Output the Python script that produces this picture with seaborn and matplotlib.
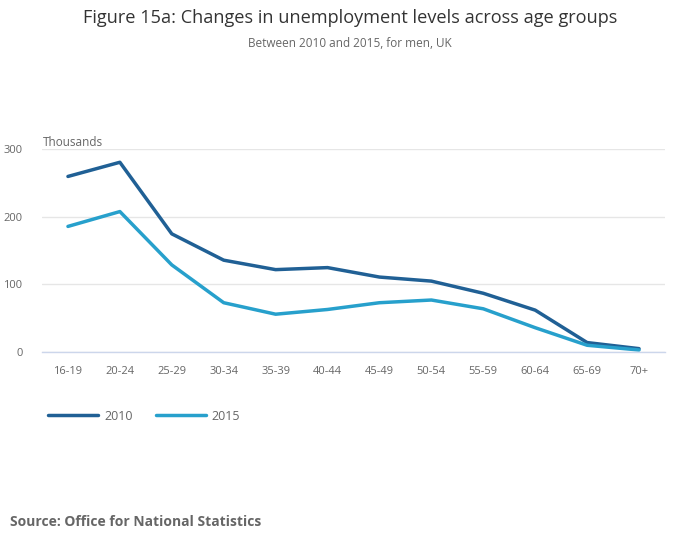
import pandas as pd
import matplotlib.pyplot as plt
import seaborn as sns
from matplotlib.lines import Line2D

age_groups = ['16-19', '20-24', '25-29', '30-34', '35-39', '40-44',
              '45-49', '50-54', '55-59', '60-64', '65-69', '70+']
men_2010 = [260, 281, 175, 136, 122, 125, 111, 105, 87, 62, 14, 5]
men_2015 = [186, 208, 129, 73, 56, 63, 73, 77, 64, 36, 10, 3]
years = ['2010', '2015']
y_ticks = [0, 100, 200, 300]

sns.set_style('white')
plt.rcParams['font.family'] = ['Open Sans', 'DejaVu Sans']

df = pd.DataFrame({
    'age': age_groups * 2,
    'value': men_2010 + men_2015,
    'year': [years[0]] * len(age_groups) + [years[1]] * len(age_groups),
})
df['pos'] = list(range(len(age_groups))) * 2

palette = {'2010': '#206095', '2015': '#27a0cc'}

fig = plt.figure(figsize=(7, 5.49), dpi=100)
ax = fig.add_axes([0.06, 0.3588, 0.89, 0.369])

sns.lineplot(data=df, x='pos', y='value', hue='year', palette=palette,
             linewidth=2.5, ax=ax, legend=False)

ax.set_xlim(-0.5, len(age_groups) - 0.5)
ax.set_ylim(0, 300)
ax.set_xticks(range(len(age_groups)))
ax.set_xticklabels(age_groups)
ax.set_yticks(y_ticks)
ax.set_xlabel('')
ax.set_ylabel('')

ax.grid(axis='y', color='#e6e6e6', linewidth=1)
ax.set_axisbelow(True)
for side in ['top', 'right', 'left']:
    ax.spines[side].set_visible(False)
ax.spines['bottom'].set_color('#ccd6eb')
ax.spines['bottom'].set_linewidth(1)
ax.tick_params(axis='x', length=8, color='#ccd6eb', labelsize=8, labelcolor='#666666', pad=2)
ax.tick_params(axis='y', length=0, labelsize=8, labelcolor='#666666', pad=14)

fig.text(0.5, 0.967, 'Figure 15a: Changes in unemployment levels across age groups',
         ha='center', va='center', fontsize=13.1, color='#333333')
fig.text(0.5, 0.920, 'Between 2010 and 2015, for men, UK',
         ha='center', va='center', fontsize=8.5, color='#666666')
fig.text(0.061, 0.740, 'Thousands', ha='left', va='center', fontsize=8.5, color='#666666')
fig.text(0.014, 0.049, 'Source: Office for National Statistics', ha='left', va='center',
         fontsize=10, fontweight='bold', color='#666666')

handles = [Line2D([], [], color=palette[y], linewidth=2.5) for y in years]
fig.legend(handles, years, loc='center left', bbox_to_anchor=(0.053, 0.242),
           ncol=2, frameon=False, handlelength=4.0, handletextpad=0.5,
           columnspacing=1.8, fontsize=9, labelcolor='#666666')

fig.savefig('out.png', dpi=100)
